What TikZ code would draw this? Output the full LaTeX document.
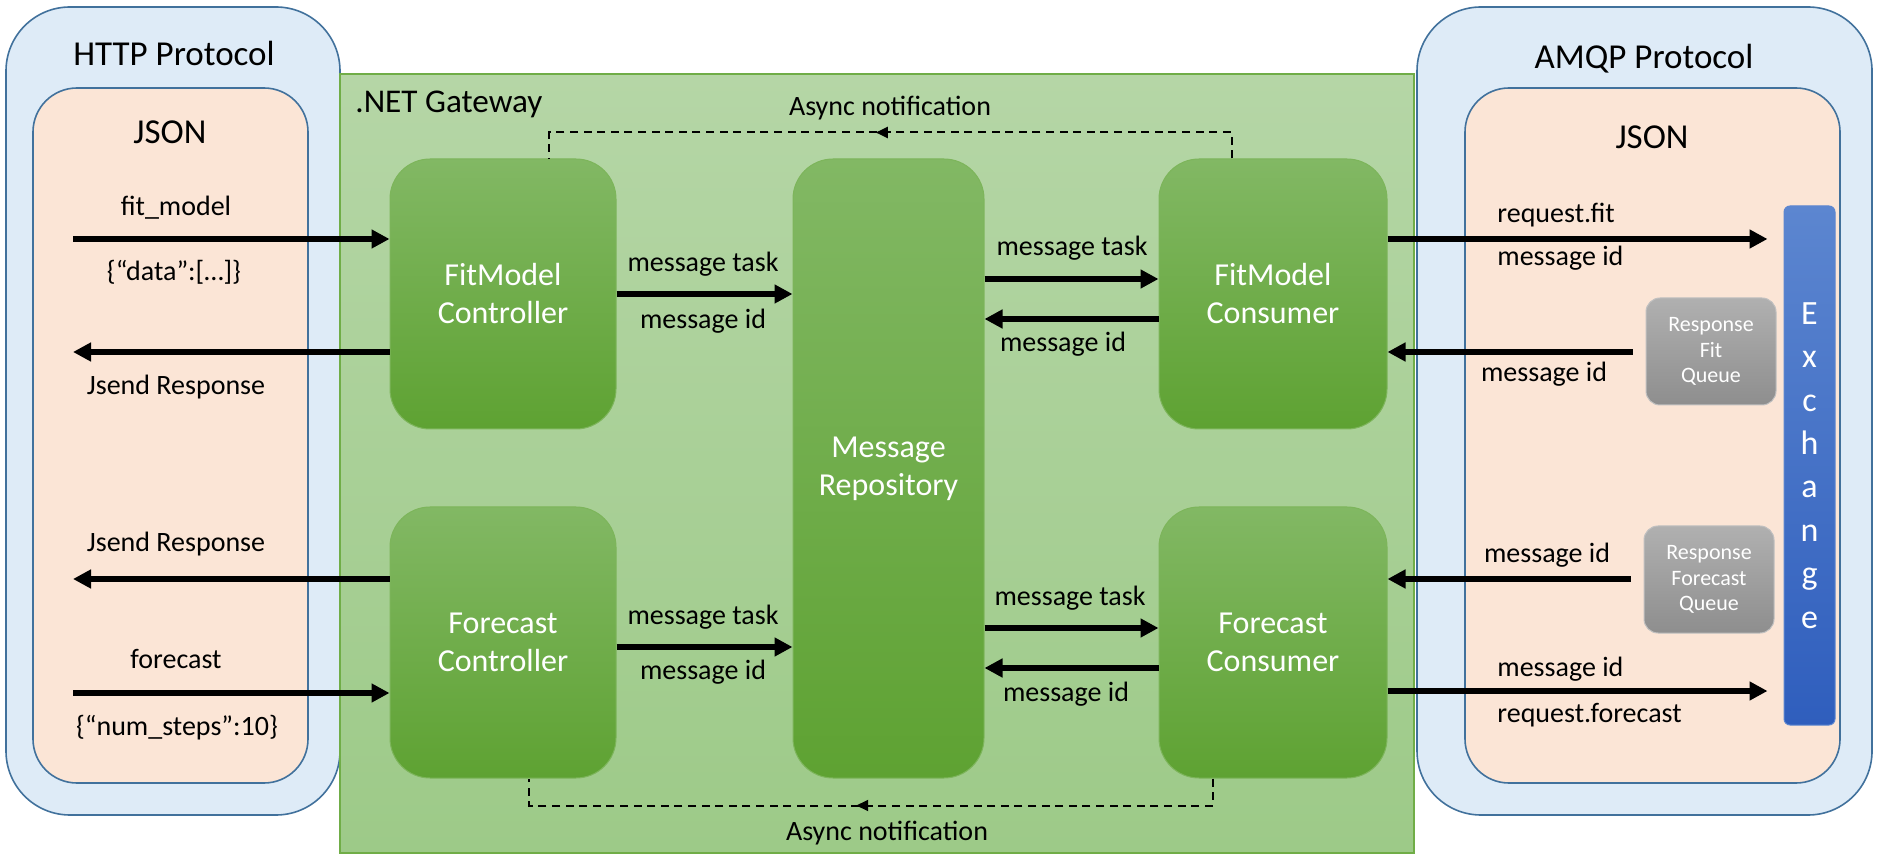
\documentclass[tikz,border=0pt]{standalone}
\usepackage{fontspec}
\setmainfont{Carlito}
\usetikzlibrary{arrows.meta,decorations.markings}

\definecolor{protofill}{HTML}{DEEBF7}
\definecolor{protoedge}{HTML}{41719C}
\definecolor{jsonfill}{HTML}{FBE5D6}
\definecolor{gatetop}{HTML}{B5D6A6}
\definecolor{gatebot}{HTML}{9DCA88}
\definecolor{gateedge}{HTML}{70AD47}
\definecolor{boxtop}{HTML}{82B864}
\definecolor{boxbot}{HTML}{5EA232}
\definecolor{boxedge}{HTML}{7DB55B}
\definecolor{queuetop}{HTML}{B0B0B0}
\definecolor{queuebot}{HTML}{8E8E8E}
\definecolor{exchtop}{HTML}{5C86D0}
\definecolor{exchbot}{HTML}{2F5EBD}

\tikzset{
  protobox/.style={draw=protoedge, line width=0.8pt, fill=protofill, rounded corners=32pt},
  jsonbox/.style={draw=protoedge, line width=0.8pt, fill=jsonfill, rounded corners=22pt},
  gatebox/.style={draw=gateedge, line width=0.6pt, top color=gatetop, bottom color=gatebot},
  greenbox/.style={draw=boxedge, line width=0.5pt, top color=boxtop, bottom color=boxbot,
    rounded corners=20pt, text=white, align=center, font=\fontsize{16}{19}\selectfont},
  queuebox/.style={draw=queuetop!80!white, line width=0.5pt, top color=queuetop, bottom color=queuebot,
    rounded corners=7pt, text=white, align=center, minimum width=65pt, minimum height=53.5pt,
    font=\fontsize{11}{12.75}\selectfont},
  exchbox/.style={draw=exchtop, line width=0.5pt, top color=exchtop, bottom color=exchbot,
    rounded corners=3pt, text=white, align=center, font=\fontsize{17}{21.7}\selectfont},
  titlelbl/.style={inner sep=0pt, font=\fontsize{17.5}{20}\selectfont},
  lbl/.style={inner sep=0pt, font=\fontsize{14}{16}\selectfont},
  bigarrow/.style={line width=3pt, -{Triangle[length=9pt,width=9pt]}},
  asyncline/.style={line width=1pt, dash pattern=on 4pt off 2.8pt, postaction={decorate},
    decoration={markings, mark=at position 0.52 with {\arrow{Triangle[length=6pt,width=5.5pt]}}}}
}

\begin{document}
\begin{tikzpicture}[x=0.5pt, y=-0.5pt]
    \useasboundingbox (0,0) rectangle (1878,860);

    % Protocol frames
    \node[protobox, minimum width=167pt, minimum height=404pt] (http) at (173,411) {};
    \node[jsonbox, minimum width=137.5pt, minimum height=347.5pt] (httpjson) at (170.5,435.5) {};
    \node[protobox, minimum width=227.5pt, minimum height=404pt] (amqp) at (1644.5,411) {};
    \node[jsonbox, minimum width=187.5pt, minimum height=347.5pt] (amqpjson) at (1652.5,435.5) {};
    \node[titlelbl] (httptitle) at (174,53) {HTTP Protocol};
    \node[titlelbl] (httpjsontitle) at (170,132) {JSON};
    \node[titlelbl] (amqptitle) at (1644,59) {AMQP Protocol};
    \node[titlelbl] (amqpjsontitle) at (1652,137) {JSON};

    % Gateway
    \node[gatebox, minimum width=537pt, minimum height=389.5pt] (gate) at (877,463.5) {};
    \node[titlelbl, anchor=west, font=\fontsize{16.6}{20}\selectfont] (gatetitle) at (355,104) {.NET Gateway};

    \node[greenbox, minimum width=113pt, minimum height=135pt] (fmctrl) at (503,294) {FitModel\\Controller};
    \node[greenbox, minimum width=113pt, minimum height=135.5pt] (fcctrl) at (503,642.5) {Forecast\\Controller};
    \node[greenbox, minimum width=95.5pt, minimum height=309.5pt] (repo) at (888.5,468.5) {Message\\Repository};
    \node[greenbox, minimum width=114pt, minimum height=135pt] (fmcons) at (1273,294) {FitModel\\Consumer};
    \node[greenbox, minimum width=114pt, minimum height=135.5pt] (fccons) at (1273,642.5) {Forecast\\Consumer};

    % Broker side
    \node[queuebox] (fitq) at (1711,351.5) {Response\\Fit\\Queue};
    \node[queuebox] (fcq) at (1709,579.5) {Response\\Forecast\\Queue};
    \node[exchbox, minimum width=25.5pt, minimum height=259.5pt] (exch) at (1809.5,465.5) {E\\x\\c\\h\\a\\n\\g\\e};

    % HTTP arrows
    \coordinate (fitin) at (73,239);
    \coordinate (fitout) at (73,352);
    \coordinate (fcout) at (73,579);
    \coordinate (fcin) at (73,693);
    \draw[bigarrow] (fitin) -- (fmctrl.west |- fitin);
    \draw[bigarrow] (fmctrl.west |- fitout) -- (fitout);
    \draw[bigarrow] (fcctrl.west |- fcout) -- (fcout);
    \draw[bigarrow] (fcin) -- (fcctrl.west |- fcin);
    \node[lbl] (fitlbl) at (176,208) {fit\_model};
    \node[lbl] (datalbl) at (174,272) {\{“data”:[…]\}};
    \node[lbl] (jsendtop) at (176,387) {Jsend Response};
    \node[lbl] (jsendbot) at (176,544) {Jsend Response};
    \node[lbl] (fclbl) at (176,659) {forecast};
    \node[lbl] (stepslbl) at (177,728) {\{“num\_steps”:10\}};

    % Repository arrows
    \draw[bigarrow] (fmctrl.east |- 0,294) -- (repo.west |- 0,294);
    \draw[bigarrow] (fcctrl.east |- 0,647) -- (repo.west |- 0,647);
    \draw[bigarrow] (repo.east |- 0,279) -- (fmcons.west |- 0,279);
    \draw[bigarrow] (fmcons.west |- 0,319) -- (repo.east |- 0,319);
    \draw[bigarrow] (repo.east |- 0,628) -- (fccons.west |- 0,628);
    \draw[bigarrow] (fccons.west |- 0,668) -- (repo.east |- 0,668);
    \node[lbl] (tasktl) at (703,264) {message task};
    \node[lbl] (idtl) at (703,321) {message id};
    \node[lbl] (taskbl) at (703,617) {message task};
    \node[lbl] (idbl) at (703,672) {message id};
    \node[lbl] (tasktr) at (1072,248) {message task};
    \node[lbl] (idtr) at (1063,344) {message id};
    \node[lbl] (taskbr) at (1070,598) {message task};
    \node[lbl] (idbr) at (1066,694) {message id};

    % AMQP arrows
    \draw[bigarrow, shorten >=8pt] (fmcons.east |- 0,239) -- (exch.west |- 0,239);
    \draw[bigarrow, shorten <=6.5pt] (fitq.west |- 0,352) -- (fmcons.east |- 0,352);
    \draw[bigarrow, shorten <=6.5pt] (fcq.west |- 0,579) -- (fccons.east |- 0,579);
    \draw[bigarrow, shorten >=8pt] (fccons.east |- 0,691) -- (exch.west |- 0,691);
    \node[lbl, anchor=west] (reqfit) at (1497,215) {request.fit};
    \node[lbl, anchor=west] (idfit) at (1497,258) {message id};
    \node[lbl] (idfitq) at (1544,374) {message id};
    \node[lbl] (idfcq) at (1547,555) {message id};
    \node[lbl, anchor=west] (idfc) at (1497,669) {message id};
    \node[lbl, anchor=west] (reqfc) at (1497,715) {request.forecast};

    % Async notifications
    \draw[asyncline] ([xshift=-20.5pt]fmcons.north) -- ++(0,-26) -| ([xshift=23pt]fmctrl.north);
    \draw[asyncline] ([xshift=-30pt]fccons.south) -- ++(0,27) -| ([xshift=13pt]fcctrl.south);
    \node[lbl] (asynctop) at (890,108) {Async notification};
    \node[lbl] (asyncbot) at (887,833) {Async notification};
\end{tikzpicture}
\end{document}
